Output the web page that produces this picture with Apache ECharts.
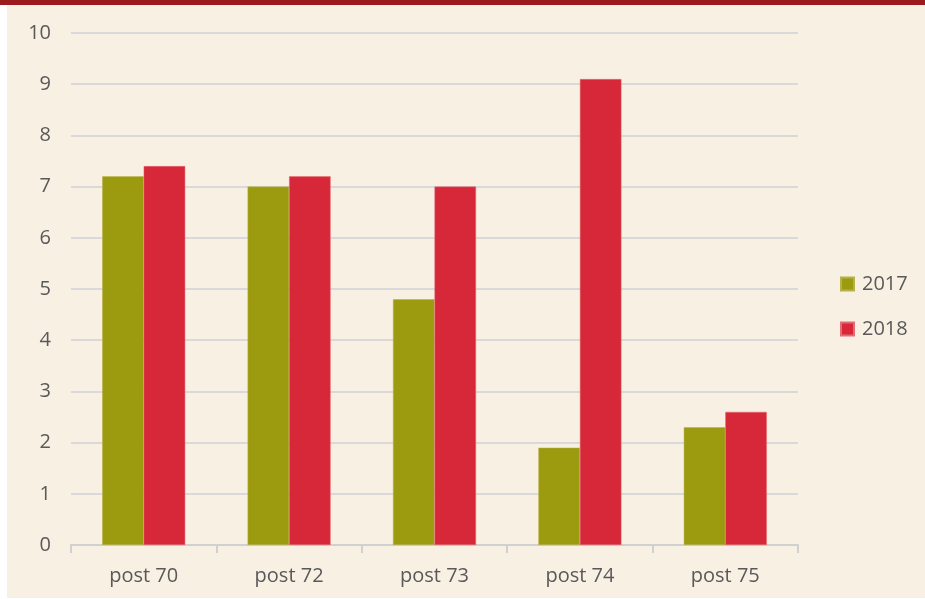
<!DOCTYPE html>
<html>
<head>
<meta charset="utf-8">
<script src="https://cdn.jsdelivr.net/npm/echarts@6/dist/echarts.min.js"></script>
<style>
html,body{margin:0;padding:0;background:#ffffff;}
#wrap{position:relative;width:925px;height:599px;overflow:hidden;background:#ffffff;}
#panel{position:absolute;left:7px;top:0;width:918px;height:598px;background:#F8F0E3;}
#band{position:absolute;left:0;top:0;width:925px;height:5px;background:#9B1B1E;}
#chart{position:absolute;left:0;top:0;width:925px;height:599px;}
</style>
</head>
<body>
<div id="wrap"><div id="panel"></div><div id="band"></div><div id="chart"></div></div>
<script>
const categories = ['post 70', 'post 72', 'post 73', 'post 74', 'post 75'];
const seriesNames = ['2017', '2018'];
const values2017 = [7.2, 7.0, 4.8, 1.9, 2.3];
const values2018 = [7.4, 7.2, 7.0, 9.1, 2.6];
const colors = ['#9C9A0E', '#D62839'];

const chart = echarts.init(document.getElementById('chart'), null, {renderer: 'canvas'});
const font = '"Open Sans", Lato, sans-serif';
chart.setOption({
  backgroundColor: 'transparent',
  animation: false,
  grid: {left: 71, right: 127, top: 33, bottom: 54, containLabel: false},
  legend: {
    orient: 'vertical',
    left: 840, top: 274, padding: 0,
    itemWidth: 13, itemHeight: 13, itemGap: 25,
    icon: 'rect',
    textStyle: {fontFamily: font, fontSize: 20, color: '#595959', padding: [0,0,0,3]},
    data: seriesNames
  },
  xAxis: {
    type: 'category',
    data: categories,
    axisLine: {lineStyle: {color: '#D0D0D0', width: 2}},
    axisTick: {show: true, length: 8, lineStyle: {color: '#D0D0D0', width: 2}},
    axisLabel: {fontFamily: font, fontSize: 20, color: '#595959', margin: 21}
  },
  yAxis: {
    type: 'value', min: 0, max: 10, interval: 1,
    axisLine: {show: false}, axisTick: {show: false},
    splitLine: {lineStyle: {color: '#D9D9D9', width: 2}},
    axisLabel: {fontFamily: font, fontSize: 20, color: '#595959', margin: 20}
  },
  series: [
    {name: seriesNames[0], type: 'bar', data: values2017, barWidth: 41.5, barGap: '0%',
     itemStyle: {color: colors[0], borderColor: '#B4B24A', borderWidth: 0.5}},
    {name: seriesNames[1], type: 'bar', data: values2018, barWidth: 41.5, barGap: '0%',
     itemStyle: {color: colors[1], borderColor: '#E46A75', borderWidth: 0.5}}
  ]
});
</script>
</body>
</html>
